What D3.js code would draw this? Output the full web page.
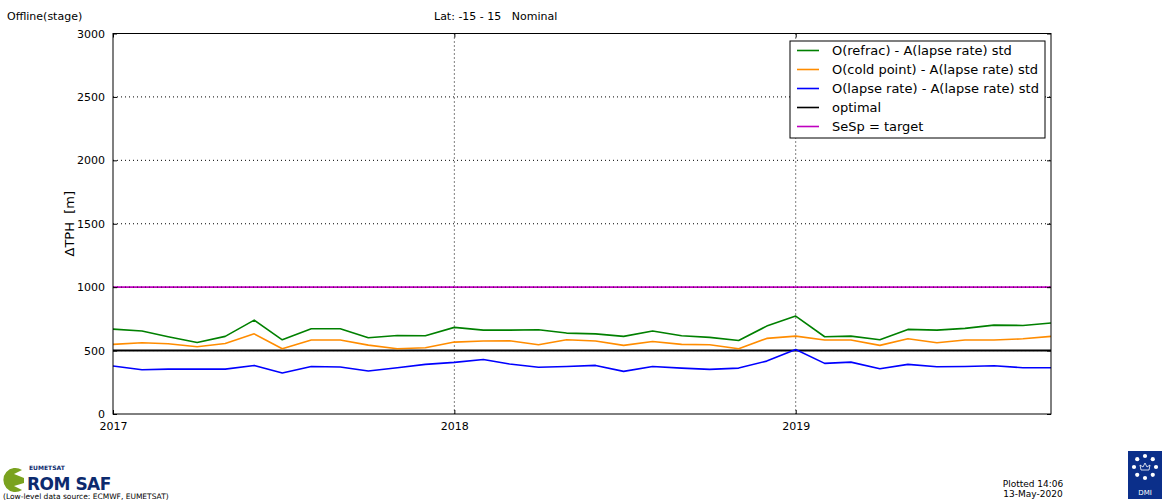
<!DOCTYPE html>
<html>
<head>
<meta charset="utf-8">
<script src="https://cdn.jsdelivr.net/npm/d3@7"></script>
<style>
  html, body { margin: 0; padding: 0; background: #fff; }
  svg { display: block; font-family: "DejaVu Sans", sans-serif; }
</style>
</head>
<body>
<svg id="chart" width="1162" height="503"></svg>
<script>
// Monthly tropopause-height difference statistics, Jan 2017 – Oct 2019
const months = d3.timeMonths(new Date(2017, 0, 1), new Date(2019, 10, 1));

const refracStd = [
  669, 654, 609, 564, 612, 740, 585, 672, 672, 601, 619, 617,
  683, 661, 661, 664, 638, 632, 612, 654, 617, 604, 580, 693,
  772, 609, 614, 585, 667, 661, 675, 701, 698, 717
];
const coldPointStd = [
  549, 562, 554, 530, 556, 632, 514, 583, 583, 543, 514, 522,
  567, 575, 577, 546, 585, 575, 541, 572, 549, 546, 514, 596,
  614, 583, 583, 541, 593, 562, 583, 583, 593, 612
];
const lapseRateStd = [
  378, 349, 354, 354, 354, 383, 323, 375, 370, 339, 365, 391,
  407, 430, 394, 368, 375, 383, 336, 375, 362, 352, 362, 417,
  509, 399, 409, 357, 391, 373, 375, 380, 365, 365
];
const optimalLevel = 500;
const targetLevel = 1000;

const yTicks = [0, 500, 1000, 1500, 2000, 2500, 3000];
const xTickYears = [2017, 2018, 2019];

const seriesNames = [
  "O(refrac) - A(lapse rate) std",
  "O(cold point) - A(lapse rate) std",
  "O(lapse rate) - A(lapse rate) std",
  "optimal",
  "SeSp = target"
];
const seriesColors = ["#008000", "#ff8c00", "#0000ff", "#000000", "#bf00bf"];

const svg = d3.select("#chart");
const plot = { left: 113, right: 1051, top: 33.5, bottom: 414 };

const x = d3.scaleTime()
  .domain([new Date(2017, 0, 1), new Date(2019, 9, 1)])
  .range([plot.left, plot.right]);
const y = d3.scaleLinear()
  .domain([0, 3000])
  .range([plot.bottom, plot.top]);

const xTickDates = xTickYears.map(yr => new Date(yr, 0, 1));

// header texts
svg.append("text").attr("x", 7).attr("y", 20)
  .attr("font-size", 11).attr("fill", "#000").text("Offline(stage)");
svg.append("text").attr("x", 434).attr("y", 20)
  .attr("font-size", 11).attr("fill", "#000")
  .attr("xml:space", "preserve").text("Lat: -15 - 15   Nominal");

// grid lines (dotted)
const grid = svg.append("g");
grid.selectAll("line.gy").data(yTicks.slice(1, -1)).join("line")
  .attr("x1", plot.left).attr("x2", plot.right)
  .attr("y1", d => y(d)).attr("y2", d => y(d))
  .attr("stroke", "#000").attr("stroke-width", 1)
  .attr("stroke-dasharray", "1,3");
grid.selectAll("line.gx").data(xTickDates.slice(1)).join("line")
  .attr("x1", d => x(d)).attr("x2", d => x(d))
  .attr("y1", plot.top).attr("y2", plot.bottom)
  .attr("stroke", "#000").attr("stroke-width", 1)
  .attr("stroke-dasharray", "1,3");

// reference levels
svg.append("line")
  .attr("x1", plot.left).attr("x2", plot.right)
  .attr("y1", y(targetLevel)).attr("y2", y(targetLevel))
  .attr("stroke", seriesColors[4]).attr("stroke-width", 1.6);
svg.append("line")
  .attr("x1", plot.left).attr("x2", plot.right)
  .attr("y1", y(targetLevel)).attr("y2", y(targetLevel))
  .attr("stroke", "#000").attr("stroke-width", 1)
  .attr("stroke-dasharray", "1,3").attr("opacity", 0.6);
svg.append("line")
  .attr("x1", plot.left).attr("x2", plot.right)
  .attr("y1", y(optimalLevel)).attr("y2", y(optimalLevel))
  .attr("stroke", seriesColors[3]).attr("stroke-width", 2);

// data series
const line = d3.line()
  .x((d, i) => x(months[i]))
  .y(d => y(d));
[refracStd, coldPointStd, lapseRateStd].forEach((vals, k) => {
  svg.append("path")
    .datum(vals)
    .attr("d", line)
    .attr("fill", "none")
    .attr("stroke", seriesColors[k])
    .attr("stroke-width", 1.6)
    .attr("stroke-linejoin", "round");
});

// frame
svg.append("rect")
  .attr("x", plot.left).attr("y", plot.top)
  .attr("width", plot.right - plot.left).attr("height", plot.bottom - plot.top)
  .attr("fill", "none").attr("stroke", "#000").attr("stroke-width", 1);

// axes with inward ticks
const yAxisL = d3.axisLeft(y).tickValues(yTicks).tickSizeInner(-4).tickSizeOuter(0)
  .tickPadding(8).tickFormat(d3.format("d"));
const gyl = svg.append("g").attr("transform", `translate(${plot.left},0)`).call(yAxisL);
gyl.select(".domain").remove();
gyl.selectAll("text").attr("font-size", 11).attr("fill", "#000").attr("font-family", "DejaVu Sans");

const yAxisR = d3.axisRight(y).tickValues(yTicks).tickSizeInner(-4).tickSizeOuter(0).tickFormat("");
const gyr = svg.append("g").attr("transform", `translate(${plot.right},0)`).call(yAxisR);
gyr.select(".domain").remove();

const xAxisB = d3.axisBottom(x).tickValues(xTickDates).tickSizeInner(-4).tickSizeOuter(0)
  .tickPadding(8).tickFormat(d3.timeFormat("%Y"));
const gxb = svg.append("g").attr("transform", `translate(0,${plot.bottom})`).call(xAxisB);
gxb.select(".domain").remove();
gxb.selectAll("text").attr("font-size", 11).attr("fill", "#000").attr("font-family", "DejaVu Sans");

const xAxisT = d3.axisTop(x).tickValues(xTickDates).tickSizeInner(-4).tickSizeOuter(0).tickFormat("");
const gxt = svg.append("g").attr("transform", `translate(0,${plot.top})`).call(xAxisT);
gxt.select(".domain").remove();

// y axis title
svg.append("text")
  .attr("transform", `translate(74,${(plot.top + plot.bottom) / 2}) rotate(-90)`)
  .attr("text-anchor", "middle").attr("font-size", 13).attr("fill", "#000")
  .attr("xml:space", "preserve").text("\u0394TPH  [m]");

// legend
const legend = svg.append("g").attr("transform", "translate(790,41)");
legend.append("rect").attr("x", 0).attr("y", 0).attr("width", 255).attr("height", 97)
  .attr("fill", "#fff").attr("stroke", "#000").attr("stroke-width", 1);
seriesNames.forEach((name, i) => {
  const ly = 9.5 + i * 19;
  legend.append("line").attr("x1", 7).attr("x2", 29).attr("y1", ly).attr("y2", ly)
    .attr("stroke", seriesColors[i]).attr("stroke-width", 1.6);
  legend.append("text").attr("x", 42).attr("y", ly + 4.5)
    .attr("font-size", 13).attr("fill", "#000").text(name);
});

// ROM SAF logo
const logo = svg.append("g");
logo.append("path")
  .attr("d", "M22,470 A12,12 0 1 0 22,490 L14,486 L24,483 L24,478 L14,474 Z")
  .attr("fill", "#7aa21f");
logo.append("text").attr("x", 29).attr("y", 470)
  .attr("font-size", 6).attr("font-weight", "bold").attr("fill", "#0c2a6e").text("EUMETSAT");
logo.append("text").attr("x", 27).attr("y", 490)
  .attr("font-size", 17).attr("font-weight", "bold").attr("fill", "#0c2a6e")
  .attr("letter-spacing", "-0.5").text("ROM SAF");
logo.append("text").attr("x", 3).attr("y", 499)
  .attr("font-size", 7.5).attr("fill", "#000").text("(Low-level data source: ECMWF, EUMETSAT)");

// plot time stamp
svg.append("text").attr("x", 1033).attr("y", 487).attr("text-anchor", "middle")
  .attr("font-size", 9).attr("fill", "#000").text("Plotted 14:06");
svg.append("text").attr("x", 1033).attr("y", 497).attr("text-anchor", "middle")
  .attr("font-size", 9).attr("fill", "#000").text("13-May-2020");

// DMI logo
const dmi = svg.append("g");
dmi.append("rect").attr("x", 1128).attr("y", 451).attr("width", 34).attr("height", 48).attr("fill", "#0b2f8a");
const cx = 1145, cy = 467, r = 11;
d3.range(8).forEach(k => {
  const a = k * Math.PI / 4;
  dmi.append("circle").attr("cx", cx + r * Math.sin(a)).attr("cy", cy - r * Math.cos(a))
    .attr("r", 2.1).attr("fill", "#fff");
});
dmi.append("path")
  .attr("d", `M${cx - 4},${cy + 3} L${cx - 5},${cy - 2} L${cx - 2},${cy} L${cx},${cy - 4} L${cx + 2},${cy} L${cx + 5},${cy - 2} L${cx + 4},${cy + 3} Z`)
  .attr("fill", "none").attr("stroke", "#fff").attr("stroke-width", 0.8);
dmi.append("text").attr("x", cx).attr("y", 495).attr("text-anchor", "middle")
  .attr("font-size", 7).attr("fill", "#fff").text("DMI");
</script>
</body>
</html>
